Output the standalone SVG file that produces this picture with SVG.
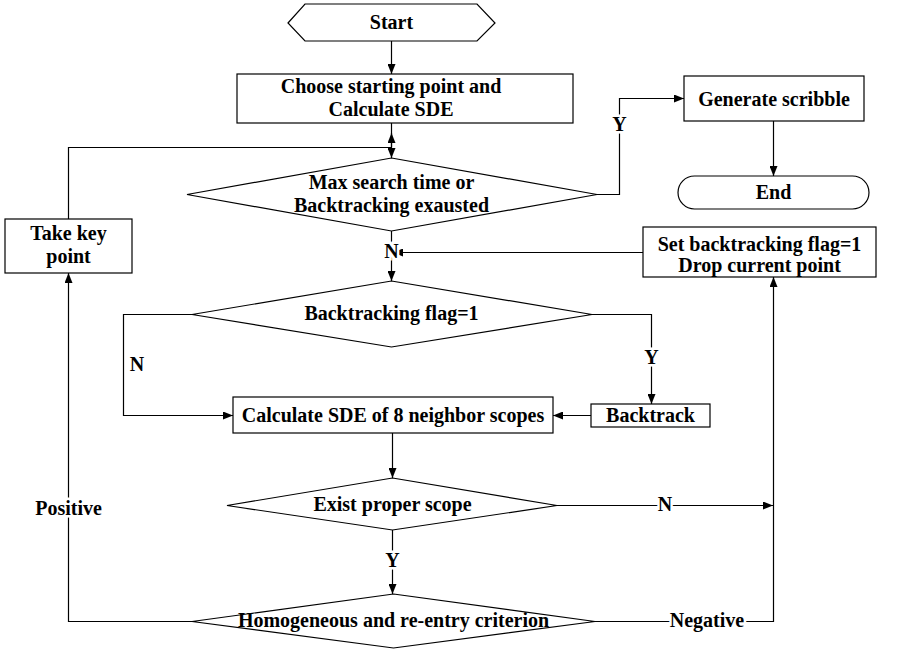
<svg xmlns="http://www.w3.org/2000/svg" width="906" height="651" viewBox="0 0 906 651">
<style>
.s{fill:#fff;stroke:#000;stroke-width:1.2}
.c{fill:none;stroke:#000;stroke-width:1.2}
text{font-family:"Liberation Serif","Times New Roman",serif;font-weight:bold;font-size:20px;text-anchor:middle;fill:#000}
.l{stroke:#fff;stroke-width:5;paint-order:stroke}
</style>
<defs>
<marker id="a" viewBox="0 0 10 8" refX="10" refY="4" markerWidth="10" markerHeight="8" markerUnits="userSpaceOnUse" orient="auto">
<path d="M0,0L10,4L0,8z" fill="#000"/>
</marker>
</defs>
<rect width="906" height="651" fill="#fff"/>
<g id="connectors">
<path class="c" d="M391.5,41V74" marker-end="url(#a)"/>
<path class="c" d="M391.5,123V158" marker-end="url(#a)"/>
<path class="c" d="M391.5,147V133" marker-end="url(#a)"/>
<path class="c" d="M68.5,219V147.5H391.5"/>
<path class="c" d="M597,194.5H619.5V98.5H684" marker-end="url(#a)"/>
<path class="c" d="M773.5,121V176" marker-end="url(#a)"/>
<path class="c" d="M391.5,231V281" marker-end="url(#a)"/>
<path class="c" d="M643,252.5H393" marker-end="url(#a)"/>
<path class="c" d="M192,314.5H123.5V415.5H233" marker-end="url(#a)"/>
<path class="c" d="M592,314.5H651.5V404" marker-end="url(#a)"/>
<path class="c" d="M591,415.5H553" marker-end="url(#a)"/>
<path class="c" d="M392.5,433V478" marker-end="url(#a)"/>
<path class="c" d="M557,505.5H773" marker-end="url(#a)"/>
<path class="c" d="M392.5,530V594" marker-end="url(#a)"/>
<path class="c" d="M192,621.5H68.5V273" marker-end="url(#a)"/>
<path class="c" d="M595,621.5H773.5V277" marker-end="url(#a)"/>
<text class="l" x="619.5" y="131">Y</text>
<text class="l" x="391.5" y="258">N</text>
<text class="l" x="137" y="371">N</text>
<text class="l" x="651.5" y="364">Y</text>
<text class="l" x="665" y="511">N</text>
<text class="l" x="392.5" y="567">Y</text>
<text class="l" x="68.5" y="515">Positive</text>
<text class="l" x="707" y="627">Negative</text>
</g>
<g id="start">
<path class="s" d="M288,23L305,4H477L495,23L477,41H305z"/>
<text x="391.5" y="29">Start</text>
</g>
<g id="choose">
<rect class="s" x="237" y="74" width="336" height="49"/>
<text x="391" y="93">Choose starting point and</text>
<text x="391" y="116">Calculate SDE</text>
</g>
<g id="maxsearch">
<path class="s" d="M391.5,158L597,194.5L391.5,231L187,194.5z"/>
<text x="391.5" y="189">Max search time or</text>
<text x="391.5" y="212">Backtracking exausted</text>
</g>
<g id="generate">
<rect class="s" x="684" y="76" width="180" height="45"/>
<text x="774" y="106">Generate scribble</text>
</g>
<g id="end">
<rect class="s" x="678" y="176" width="191" height="33" rx="16.5"/>
<text x="773.5" y="199">End</text>
</g>
<g id="setflag">
<rect class="s" x="643" y="227" width="233" height="50"/>
<text x="759.5" y="251">Set backtracking flag=1</text>
<text x="759.5" y="272">Drop current point</text>
</g>
<g id="takekey">
<rect class="s" x="5" y="219" width="127" height="54"/>
<text x="68.5" y="240">Take key</text>
<text x="68.5" y="263">point</text>
</g>
<g id="flag">
<path class="s" d="M391.5,281L592,314.5L391.5,347L192,314.5z"/>
<text x="391.5" y="320">Backtracking flag=1</text>
</g>
<g id="calc">
<rect class="s" x="233" y="397" width="320" height="36"/>
<text x="393" y="422">Calculate SDE of 8 neighbor scopes</text>
</g>
<g id="backtrack">
<rect class="s" x="591" y="404" width="119" height="23"/>
<text x="650.5" y="422">Backtrack</text>
</g>
<g id="exist">
<path class="s" d="M392.5,478L557,505.5L392.5,530L227,505.5z"/>
<text x="392.5" y="511">Exist proper scope</text>
</g>
<g id="homog">
<path class="s" d="M393.5,594L595,621.5L393.5,648L192,621.5z"/>
<text x="393.5" y="627">Homogeneous and re-entry criterion</text>
</g>
</svg>
